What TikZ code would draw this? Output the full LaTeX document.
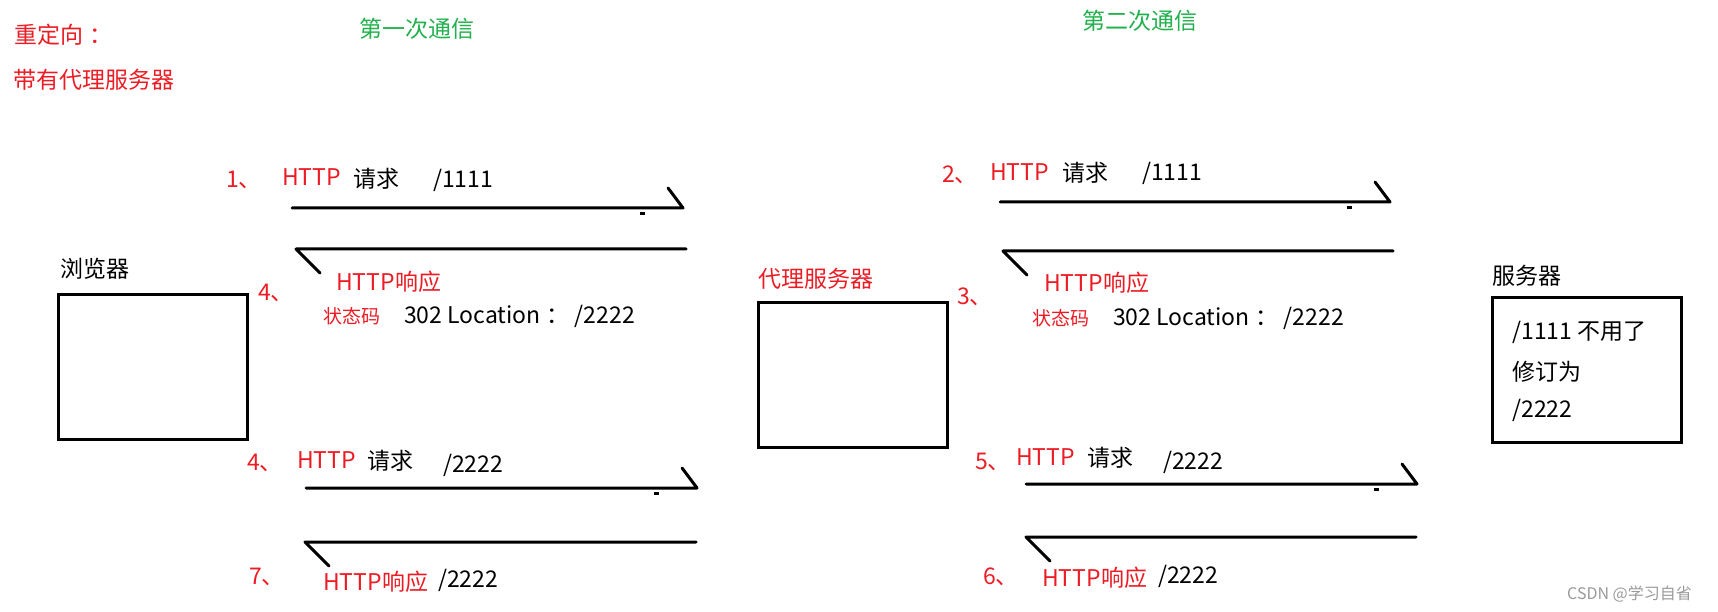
\documentclass[tikz,border=0pt]{standalone}
\usepackage{fontspec}
\setmainfont{Noto Sans CJK SC}
\usetikzlibrary{positioning,calc}
\definecolor{NoteRed}{HTML}{ED1C24}
\definecolor{RoundGreen}{HTML}{22B14C}
\definecolor{MarkGrey}{HTML}{9A9A9A}

\begin{document}
\begin{tikzpicture}[x=1pt,y=-1pt,
  txt/.style={inner sep=0pt,anchor=west,font=\fontsize{23}{27}\selectfont},
  redtxt/.style={txt,text=NoteRed},
  smalltxt/.style={redtxt,font=\fontsize{19}{22}\selectfont},
  wire/.style={line width=3pt,line join=round,line cap=round},
  boxnode/.style={draw,line width=3pt,inner sep=0pt,minimum width=189pt,minimum height=145pt}]
 \useasboundingbox[fill=white] (0,0) rectangle (1718,612);
 % headings
 \node[redtxt] (redir) at (14,35) {重定向\hspace{6pt}：};
 \node[redtxt] (withproxy) at (13,80) {带有代理服务器};
 \node[txt,text=RoundGreen] (round1) at (359,29) {第一次通信};
 \node[txt,text=RoundGreen] (round2) at (1082,21) {第二次通信};
 % the three hosts
 \node[boxnode] (browser) at (152.5,367) {};
 \node[boxnode] (proxy) at (853,374.5) {};
 \node[boxnode] (server) at (1586.5,369.5) {};
 \node[txt] (browserlab) at (60,269) {浏览器};
 \node[redtxt] (proxylab) at (758,279) {代理服务器};
 \node[txt] (serverlab) at (1492,276) {服务器};
 \node[txt] (srvA) at (1512,332) {/1111 不用了};
 \node[txt] (srvB) at (1512,372) {修订为};
 \node[txt] (srvC) at (1512,410) {/2222};
 % requests (to the right)
 \foreach \n/\xa/\xb/\y in {a/292/683/208,b/1000/1390/202,c/306/697/488,d/1026/1417/484}{
   \coordinate (req\n s) at (\xa,\y);
   \coordinate (req\n e) at (\xb,\y);
   \draw[wire] (req\n s) -- (req\n e) -- ++(-15,-20);
   \fill ($(req\n e)+(-43,4)$) rectangle ++(5,3);}
 % responses (to the left)
 \foreach \n/\xa/\xb/\y in {a/296/686/249,b/1003/1393/251,c/305/696/542,d/1026/1416/537}{
   \coordinate (rsp\n s) at (\xb,\y);
   \coordinate (rsp\n e) at (\xa,\y);
   \draw[wire] (rsp\n s) -- (rsp\n e) -- ++(24,24);}
 % first round, browser to proxy
 \node[redtxt] (stepA) at (226,180) {1、};
 \node[redtxt] (httpA) at (282,177) {HTTP};
 \node[txt] (askA) at (353,179) {请求};
 \node[txt] (pathA) at (433,180) {/1111};
 \node[redtxt] (backA) at (336,282) {HTTP响应};
 \node[redtxt] (stepD) at (258,293) {4、};
 \node[smalltxt] (codeA) at (323,316) {状态码};
 \node[txt] (locA) at (404,316) {302 Location\hspace{6pt}： /2222};
 % first round, proxy to server
 \node[redtxt] (stepB) at (942,175) {2、};
 \node[redtxt] (httpB) at (990,172) {HTTP};
 \node[txt] (askB) at (1062,173) {请求};
 \node[txt] (pathB) at (1142,173) {/1111};
 \node[redtxt] (backB) at (1044,283) {HTTP响应};
 \node[redtxt] (stepC) at (957,297) {3、};
 \node[smalltxt] (codeB) at (1032,318) {状态码};
 \node[txt] (locB) at (1113,318) {302 Location\hspace{6pt}： /2222};
 % second round, browser to proxy
 \node[redtxt] (stepE) at (247,463) {4、};
 \node[redtxt] (httpC) at (297,460) {HTTP};
 \node[txt] (askC) at (367,461) {请求};
 \node[txt] (pathC) at (443,465) {/2222};
 \node[redtxt] (stepH) at (249,577) {7、};
 \node[redtxt] (backC) at (323,582) {HTTP响应};
 \node[txt] (pathE) at (438,580) {/2222};
 % second round, proxy to server
 \node[redtxt] (stepF) at (975,462) {5、};
 \node[redtxt] (httpD) at (1016,457) {HTTP};
 \node[txt] (askD) at (1087,458) {请求};
 \node[txt] (pathD) at (1163,462) {/2222};
 \node[redtxt] (stepG) at (983,577) {6、};
 \node[redtxt] (backD) at (1042,578) {HTTP响应};
 \node[txt] (pathF) at (1158,576) {/2222};
 \node[txt,text=MarkGrey,font=\fontsize{16}{19}\selectfont] (mark) at (1567,594) {CSDN @学习自省};
\end{tikzpicture}
\end{document}
